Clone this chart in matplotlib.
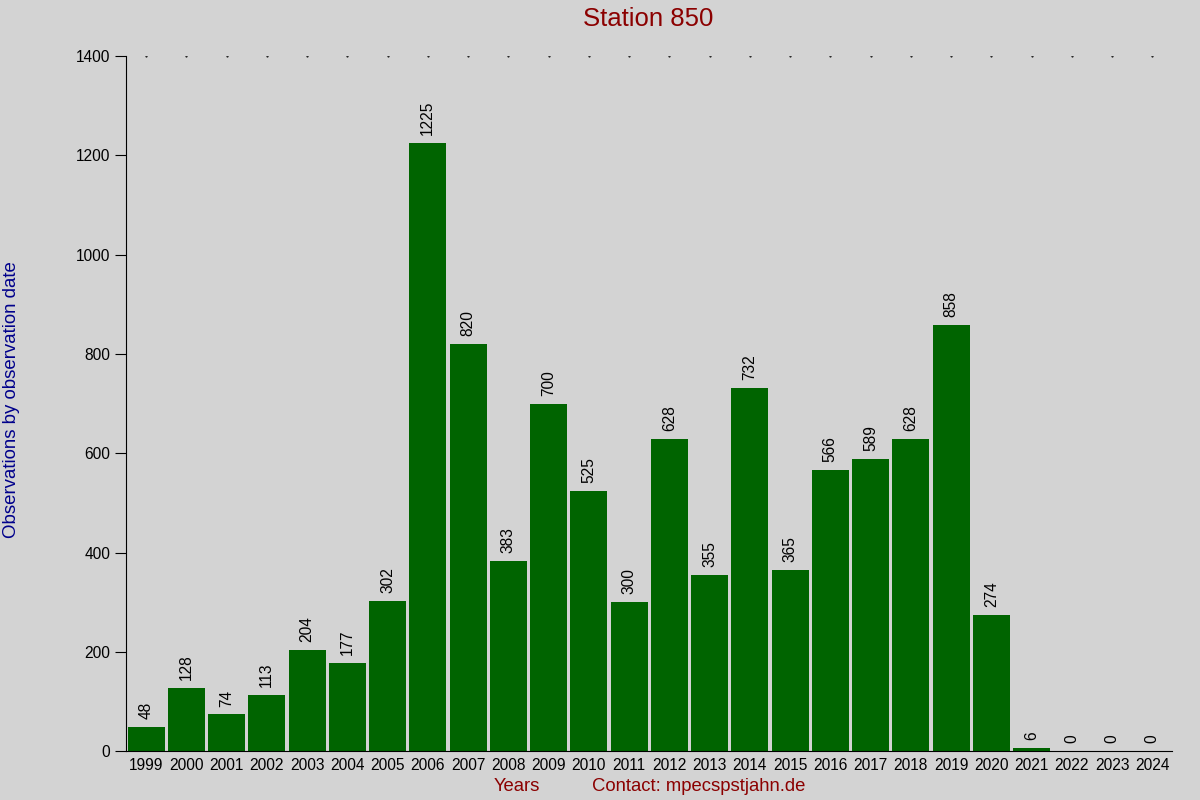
import matplotlib.pyplot as plt
import numpy as np

years = list(range(1999, 2025))
counts = [48, 128, 74, 113, 204, 177, 302, 1225, 820, 383, 700, 525, 300,
          628, 355, 732, 365, 566, 589, 628, 858, 274, 6, 0, 0, 0]

plt.rcParams['font.family'] = ['Liberation Sans', 'DejaVu Sans']

fig = plt.figure(figsize=(12, 8), dpi=100, facecolor='#d3d3d3')
ax = fig.add_axes([0.105, 0.061, 0.872, 0.869])
ax.set_facecolor('#d3d3d3')

x = np.arange(len(years))
ax.bar(x, counts, width=0.92, color='#006400')
for xi, c in zip(x, counts):
    ax.text(xi, c + 16, str(c), rotation=90, ha='center', va='bottom', fontsize=11.2)

# small dots along the top
ax.plot(x, [1400] * len(x), linestyle='none', marker='.', markersize=1, color='black')

ax.set_xlim(-0.5, 25.5)
ax.set_ylim(0, 1400)
ax.set_yticks(range(0, 1401, 200))
ax.set_xticks(x)
ax.set_xticklabels([str(y) for y in years])
ax.tick_params(axis='x', length=0, labelsize=11.2, pad=5)
ax.tick_params(axis='y', length=8, labelsize=11.2, direction='out')
ax.spines[['top', 'right']].set_visible(False)

fig.text(0.54, 0.976, 'Station 850', ha='center', va='center', fontsize=18.5, color='#8b0000')
fig.text(0.01, 0.5, 'Observations by observation date', rotation=90, ha='center', va='center',
         fontsize=13.4, color='#00008b')
fig.text(0.431, 0.017, 'Years', ha='center', va='center', fontsize=13.3, color='#8b0000')
fig.text(0.582, 0.017, 'Contact: mpecspstjahn.de', ha='center', va='center', fontsize=13.3, color='#8b0000')

fig.savefig('out.png', dpi=100, facecolor='#d3d3d3')
